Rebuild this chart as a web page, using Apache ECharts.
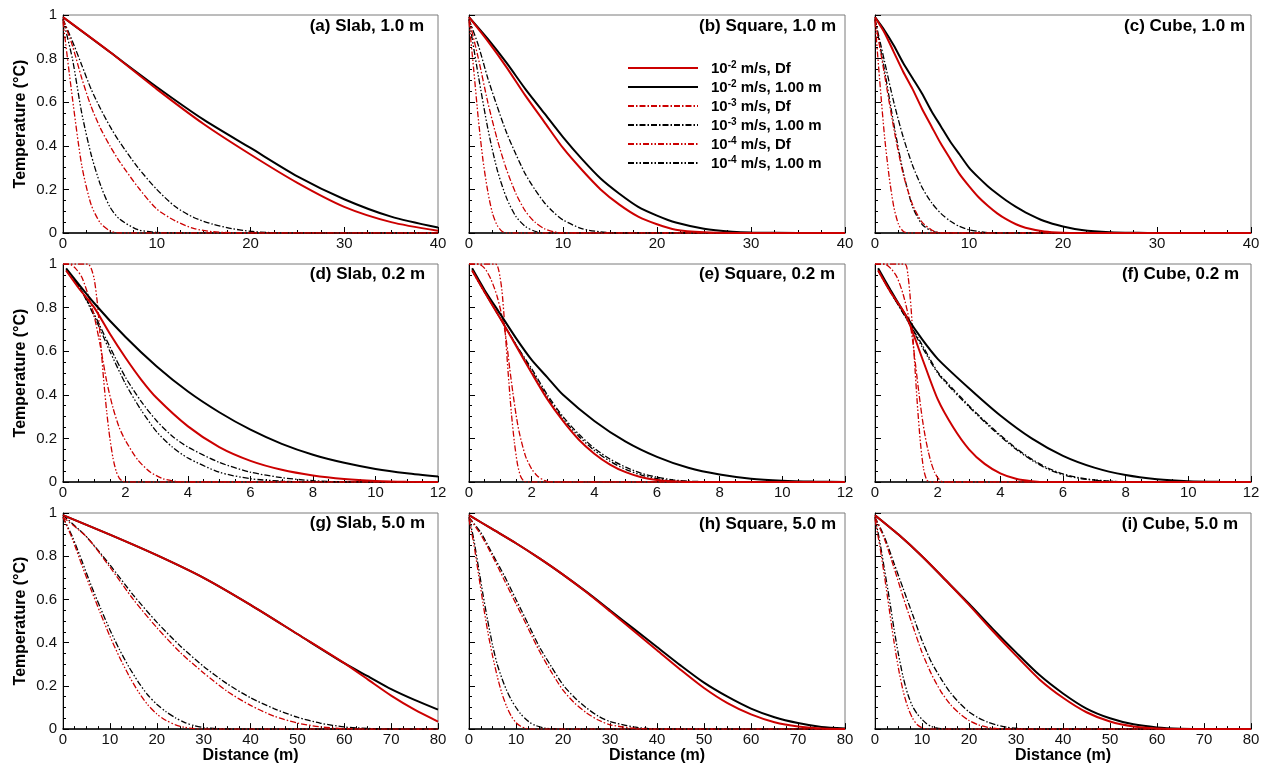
<!DOCTYPE html>
<html><head><meta charset="utf-8">
<script src="https://cdn.jsdelivr.net/npm/echarts@6/dist/echarts.min.js"></script>
<style>html,body{margin:0;padding:0;background:#fff}#c{width:1264px;height:765px}</style>
</head><body><div id="c"></div>
<script>
// ---------------- DATA ----------------
const seriesNames = ['10-2 m/s, Df','10-2 m/s, 1.00 m','10-3 m/s, Df','10-3 m/s, 1.00 m','10-4 m/s, Df','10-4 m/s, 1.00 m'];
const panelTitles = ['(a) Slab, 1.0 m','(b) Square, 1.0 m','(c) Cube, 1.0 m','(d) Slab, 0.2 m','(e) Square, 0.2 m','(f) Cube, 0.2 m','(g) Slab, 5.0 m','(h) Square, 5.0 m','(i) Cube, 5.0 m'];
const rowXMax = [40, 12, 80];
const rowXInterval = [10, 2, 10];
const yTicks = [0, 0.2, 0.4, 0.6, 0.8, 1];

// (a) Slab 1.0 m
const a_red2 = [[0,0.99],[5,0.83],[10,0.66],[15,0.50],[20,0.36],[25,0.23],[30,0.12],[35,0.05],[40,0.01]];
const a_blk2 = [[0,0.99],[5,0.83],[10,0.67],[15,0.52],[20,0.39],[25,0.26],[30,0.155],[35,0.075],[40,0.025]];
const a_red3 = [[0,0.98],[1,0.86],[2,0.71],[3,0.58],[4,0.48],[5,0.40],[6,0.33],[8,0.21],[10,0.11],[12,0.055],[14,0.02],[16,0.006],[18,0.001],[20,0],[40,0]];
const a_blk3 = [[0,0.98],[1,0.88],[2,0.77],[3,0.66],[4,0.57],[5,0.49],[6,0.42],[8,0.30],[10,0.20],[12,0.12],[14,0.07],[16,0.04],[18,0.02],[20,0.008],[22,0.002],[25,0],[40,0]];
const a_red4 = [[0,0.97],[1,0.62],[2,0.31],[3,0.13],[4,0.045],[5,0.01],[6,0],[40,0]];
const a_blk4 = [[0,0.98],[1,0.80],[2,0.55],[3,0.36],[4,0.22],[5,0.12],[6,0.065],[8,0.015],[10,0.003],[12,0],[40,0]];
// (b) Square 1.0 m
const b_red2 = [[0,0.99],[2,0.88],[4,0.76],[6,0.63],[8,0.51],[10,0.39],[12,0.29],[14,0.20],[16,0.13],[18,0.075],[20,0.04],[22,0.015],[25,0.003],[28,0],[40,0]];
const b_blk2 = [[0,0.99],[2,0.89],[4,0.78],[6,0.66],[8,0.55],[10,0.44],[12,0.34],[14,0.25],[16,0.18],[18,0.12],[20,0.08],[22,0.048],[25,0.02],[28,0.006],[30,0.002],[35,0],[40,0]];
const b_red3 = [[0,0.98],[1,0.80],[2,0.60],[3,0.43],[4,0.29],[5,0.18],[6,0.10],[7,0.05],[8,0.02],[9,0.006],[10,0],[40,0]];
const b_blk3 = [[0,0.98],[1,0.86],[2,0.71],[3,0.58],[4,0.46],[5,0.36],[6,0.27],[7,0.20],[8,0.14],[9,0.095],[10,0.06],[12,0.02],[14,0.005],[16,0],[40,0]];
const b_red4 = [[0,0.97],[0.5,0.75],[1,0.52],[1.5,0.33],[2,0.19],[2.5,0.09],[3,0.035],[3.5,0.008],[4,0],[40,0]];
const b_blk4 = [[0,0.98],[1,0.72],[2,0.48],[3,0.29],[4,0.16],[5,0.075],[6,0.03],[7,0.008],[8,0],[40,0]];
// (c) Cube 1.0 m
const c_red2 = [[0,0.99],[1,0.92],[2,0.83],[3,0.74],[4,0.66],[5,0.57],[6,0.49],[7,0.41],[8,0.34],[9,0.27],[10,0.215],[11,0.165],[12,0.125],[13,0.09],[14,0.062],[15,0.04],[16,0.024],[18,0.007],[20,0.001],[22,0],[40,0]];
const c_blk2 = [[0,0.99],[1,0.93],[2,0.86],[3,0.78],[4,0.71],[5,0.64],[6,0.56],[7,0.49],[8,0.42],[9,0.36],[10,0.30],[11,0.255],[12,0.215],[13,0.18],[14,0.148],[15,0.12],[16,0.095],[18,0.055],[20,0.03],[22,0.014],[25,0.004],[28,0.001],[30,0],[40,0]];
const c_red3 = [[0,0.98],[1,0.73],[2,0.48],[3,0.27],[4,0.13],[5,0.05],[6,0.015],[7,0],[40,0]];
const c_blk3 = [[0,0.98],[1,0.79],[2,0.60],[3,0.44],[4,0.31],[5,0.21],[6,0.14],[7,0.09],[8,0.055],[9,0.03],[10,0.015],[11,0.007],[12,0.002],[14,0],[40,0]];
const c_red4 = [[0,0.97],[0.5,0.70],[1,0.45],[1.5,0.26],[2,0.12],[2.5,0.04],[3,0.008],[3.5,0],[40,0]];
const c_blk4 = [[0,0.98],[1,0.75],[2,0.50],[3,0.28],[4,0.12],[5,0.04],[6,0.01],[7,0],[40,0]];
// (d) Slab 0.2 m
const d_red2 = [[0.1,0.97],[0.5,0.89],[1,0.80],[1.5,0.68],[2,0.57],[2.5,0.47],[3,0.385],[4,0.255],[5,0.16],[6,0.097],[7,0.056],[8,0.03],[9,0.014],[10,0.005],[11,0.001],[12,0]];
const d_blk2 = [[0.1,0.98],[1,0.82],[2,0.665],[3,0.53],[4,0.415],[5,0.32],[6,0.24],[7,0.175],[8,0.125],[9,0.088],[10,0.06],[11,0.04],[12,0.025]];
const d_red3 = [[0,1],[0.2,1],[0.4,0.98],[0.6,0.94],[0.8,0.86],[1.0,0.76],[1.2,0.62],[1.4,0.46],[1.6,0.34],[1.8,0.25],[2.0,0.19],[2.4,0.10],[2.8,0.045],[3.2,0.015],[3.6,0.003],[4,0],[12,0]];
const d_blk3 = [[0.1,0.97],[0.5,0.90],[1,0.77],[1.5,0.62],[2,0.48],[2.5,0.37],[3,0.28],[3.5,0.21],[4,0.16],[5,0.09],[6,0.045],[7,0.02],[8,0.006],[9,0],[12,0]];
const d_red4 = [[0,1],[0.8,1],[0.9,0.98],[1.0,0.93],[1.1,0.82],[1.2,0.65],[1.3,0.47],[1.4,0.32],[1.5,0.20],[1.6,0.11],[1.7,0.05],[1.8,0.018],[1.9,0.004],[2.0,0],[12,0]];
const d_blk4 = [[0.1,0.97],[0.5,0.90],[1,0.76],[1.5,0.60],[2,0.45],[2.5,0.33],[3,0.23],[3.5,0.16],[4,0.11],[5,0.045],[6,0.015],[7,0.004],[8,0],[12,0]];
// (e) Square 0.2 m
const e_red2 = [[0.1,0.97],[0.5,0.87],[1,0.75],[1.5,0.625],[2,0.50],[2.5,0.38],[3,0.28],[3.5,0.195],[4,0.13],[4.5,0.08],[5,0.045],[5.5,0.022],[6,0.009],[6.5,0.003],[7,0],[12,0]];
const e_blk2 = [[0.1,0.98],[0.5,0.88],[1,0.77],[1.5,0.66],[2,0.56],[2.5,0.48],[3,0.40],[4,0.28],[5,0.185],[6,0.115],[7,0.065],[8,0.034],[9,0.015],[10,0.006],[11,0.002],[12,0]];
const e_red3 = [[0,1],[0.3,1],[0.5,0.98],[0.7,0.93],[0.9,0.85],[1.1,0.73],[1.2,0.64],[1.3,0.52],[1.4,0.41],[1.5,0.31],[1.6,0.23],[1.8,0.12],[2.0,0.06],[2.2,0.025],[2.4,0.008],[2.6,0],[12,0]];
const e_blk3 = [[0.1,0.97],[0.5,0.87],[1,0.75],[1.5,0.63],[2,0.52],[2.5,0.40],[3,0.30],[3.5,0.22],[4,0.155],[4.5,0.105],[5,0.068],[5.5,0.04],[6,0.022],[6.5,0.01],[7,0.004],[8,0],[12,0]];
const e_red4 = [[0,1],[0.85,1],[0.95,0.97],[1.05,0.88],[1.15,0.70],[1.25,0.50],[1.35,0.32],[1.45,0.18],[1.55,0.08],[1.65,0.025],[1.75,0.004],[1.85,0],[12,0]];
const e_blk4 = [[0.1,0.97],[0.5,0.87],[1,0.75],[1.5,0.63],[2,0.51],[2.5,0.39],[3,0.29],[3.5,0.21],[4,0.145],[4.5,0.095],[5,0.058],[5.5,0.032],[6,0.015],[6.5,0.006],[7,0.002],[8,0],[12,0]];
// (f) Cube 0.2 m
const f_red2 = [[0.1,0.97],[0.5,0.87],[1,0.76],[1.5,0.57],[2,0.38],[2.5,0.25],[3,0.15],[3.5,0.083],[4,0.04],[4.5,0.015],[5,0.004],[5.5,0],[12,0]];
const f_blk2 = [[0.1,0.98],[0.5,0.88],[1,0.76],[1.5,0.655],[2,0.565],[3,0.43],[4,0.305],[5,0.20],[6,0.12],[7,0.066],[8,0.032],[9,0.013],[10,0.004],[11,0.001],[12,0]];
const f_red3 = [[0,1],[0.3,1],[0.5,0.98],[0.7,0.94],[0.9,0.86],[1.1,0.74],[1.2,0.65],[1.3,0.53],[1.4,0.41],[1.5,0.30],[1.6,0.21],[1.7,0.14],[1.8,0.085],[1.9,0.045],[2.0,0.02],[2.1,0.005],[2.2,0],[12,0]];
const f_blk3 = [[0.1,0.97],[0.5,0.87],[1,0.75],[1.5,0.63],[2,0.505],[2.5,0.425],[3,0.35],[3.5,0.28],[4,0.215],[4.5,0.155],[5,0.105],[5.5,0.065],[6,0.037],[6.5,0.02],[7,0.01],[7.5,0.004],[8,0],[12,0]];
const f_red4 = [[0,1],[0.95,1],[1.05,0.95],[1.15,0.80],[1.25,0.58],[1.35,0.36],[1.45,0.18],[1.55,0.06],[1.65,0.01],[1.75,0],[12,0]];
const f_blk4 = [[0.1,0.97],[0.5,0.87],[1,0.75],[1.5,0.62],[2,0.50],[2.5,0.418],[3,0.345],[3.5,0.275],[4,0.21],[4.5,0.15],[5,0.10],[5.5,0.06],[6,0.033],[6.5,0.017],[7,0.008],[7.5,0.003],[8,0],[12,0]];
// (g) Slab 5.0 m
const g_red2 = [[0,0.99],[10,0.90],[20,0.805],[30,0.70],[40,0.575],[50,0.44],[60,0.305],[65,0.23],[70,0.155],[75,0.09],[80,0.035]];
const g_blk2 = [[0,0.99],[10,0.90],[20,0.805],[30,0.70],[40,0.575],[50,0.44],[60,0.305],[65,0.245],[70,0.185],[75,0.135],[80,0.09]];
const g_red3 = [[0,0.98],[5,0.89],[10,0.75],[15,0.60],[20,0.47],[25,0.355],[30,0.26],[35,0.175],[40,0.11],[45,0.06],[50,0.028],[55,0.01],[60,0.002],[65,0],[80,0]];
const g_blk3 = [[0,0.99],[5,0.89],[10,0.76],[15,0.62],[20,0.495],[25,0.385],[30,0.29],[35,0.21],[40,0.145],[45,0.095],[50,0.055],[55,0.027],[60,0.01],[65,0.003],[70,0],[80,0]];
const g_red4 = [[0,0.98],[2,0.88],[4,0.76],[6,0.645],[8,0.535],[10,0.43],[12,0.335],[14,0.25],[16,0.175],[18,0.115],[20,0.07],[22,0.04],[24,0.02],[26,0.008],[28,0.002],[30,0],[80,0]];
const g_blk4 = [[0,0.98],[2,0.89],[4,0.78],[6,0.665],[8,0.56],[10,0.46],[12,0.37],[14,0.29],[16,0.22],[18,0.16],[20,0.115],[22,0.08],[24,0.052],[26,0.03],[28,0.016],[30,0.007],[33,0.002],[36,0],[80,0]];
// (h) Square 5.0 m
const h_red2 = [[0,0.99],[5,0.925],[10,0.86],[15,0.79],[20,0.715],[25,0.633],[30,0.545],[35,0.455],[40,0.365],[45,0.275],[50,0.19],[55,0.12],[60,0.068],[65,0.032],[70,0.012],[75,0.003],[80,0]];
const h_blk2 = [[0,0.99],[5,0.925],[10,0.86],[15,0.79],[20,0.715],[25,0.635],[30,0.55],[35,0.465],[40,0.38],[45,0.295],[50,0.215],[55,0.15],[60,0.095],[65,0.055],[70,0.028],[75,0.01],[80,0.003]];
const h_red3 = [[0,0.98],[2.5,0.90],[5,0.80],[7.5,0.69],[10,0.58],[12.5,0.47],[15,0.36],[17.5,0.265],[20,0.18],[22.5,0.12],[25,0.075],[27.5,0.042],[30,0.02],[35,0.004],[40,0],[80,0]];
const h_blk3 = [[0,0.98],[2.5,0.91],[5,0.81],[7.5,0.71],[10,0.60],[12.5,0.49],[15,0.38],[17.5,0.29],[20,0.205],[22.5,0.145],[25,0.098],[27.5,0.06],[30,0.035],[35,0.01],[40,0],[80,0]];
const h_red4 = [[0,0.97],[1,0.86],[2,0.72],[3,0.58],[4,0.45],[5,0.34],[6,0.245],[7,0.165],[8,0.105],[9,0.06],[10,0.03],[11,0.013],[12,0.004],[13,0],[80,0]];
const h_blk4 = [[0,0.98],[1,0.88],[2,0.75],[3,0.62],[4,0.50],[5,0.39],[6,0.30],[7,0.235],[8,0.18],[9,0.135],[10,0.10],[11,0.07],[12,0.048],[13,0.03],[14,0.018],[16,0.005],[18,0.001],[20,0],[80,0]];
// (i) Cube 5.0 m
const i_red2 = [[0,0.99],[5,0.90],[10,0.80],[15,0.69],[20,0.575],[25,0.455],[30,0.34],[35,0.23],[40,0.145],[45,0.078],[50,0.035],[55,0.012],[60,0.003],[65,0],[80,0]];
const i_blk2 = [[0,0.99],[5,0.90],[10,0.80],[15,0.69],[20,0.58],[25,0.465],[30,0.355],[35,0.25],[40,0.165],[45,0.095],[50,0.05],[55,0.022],[60,0.008],[65,0.002],[70,0],[80,0]];
const i_red3 = [[0,0.98],[2,0.88],[4,0.75],[6,0.61],[8,0.48],[10,0.355],[12,0.255],[14,0.175],[16,0.115],[18,0.072],[20,0.04],[22,0.02],[24,0.008],[26,0.002],[28,0],[80,0]];
const i_blk3 = [[0,0.98],[2,0.89],[4,0.77],[6,0.65],[8,0.53],[10,0.41],[12,0.31],[14,0.235],[16,0.17],[18,0.12],[20,0.08],[22,0.052],[24,0.032],[26,0.018],[28,0.009],[30,0.004],[33,0],[80,0]];
const i_red4 = [[0,0.97],[1,0.85],[2,0.71],[3,0.56],[4,0.41],[5,0.28],[6,0.175],[7,0.10],[8,0.05],[9,0.02],[10,0.006],[11,0],[80,0]];
const i_blk4 = [[0,0.98],[1,0.87],[2,0.74],[3,0.61],[4,0.47],[5,0.345],[6,0.24],[7,0.16],[8,0.105],[9,0.07],[10,0.045],[11,0.025],[12,0.012],[13,0.006],[14,0.002],[15,0],[80,0]];

const panelData = [
  [a_red2,a_blk2,a_red3,a_blk3,a_red4,a_blk4],
  [b_red2,b_blk2,b_red3,b_blk3,b_red4,b_blk4],
  [c_red2,c_blk2,c_red3,c_blk3,c_red4,c_blk4],
  [d_red2,d_blk2,d_red3,d_blk3,d_red4,d_blk4],
  [e_red2,e_blk2,e_red3,e_blk3,e_red4,e_blk4],
  [f_red2,f_blk2,f_red3,f_blk3,f_red4,f_blk4],
  [g_red2,g_blk2,g_red3,g_blk3,g_red4,g_blk4],
  [h_red2,h_blk2,h_red3,h_blk3,h_red4,h_blk4],
  [i_red2,i_blk2,i_red3,i_blk3,i_red4,i_blk4]
];

// ---------------- LAYOUT / STYLE ----------------
const FONT = '"Liberation Sans", Arial, Helvetica, sans-serif';
const RED = '#cc0000', BLK = '#000000';
const colLeft = [63, 469, 875], colWidth = [375, 376, 376];
const rowTop = [15, 264, 513], rowHeight = 218;
const titleRight = [840, 428, 19, 839, 429, 25, 839, 428, 26];
const titleTop = [18, 18, 18, 266, 266, 266, 515, 516, 516];
const styles = [
  {color: RED, width: 2, type: 'solid'},
  {color: BLK, width: 2, type: 'solid'},
  {color: RED, width: 1.3, type: [6, 2, 1.5, 2]},
  {color: BLK, width: 1.3, type: [6, 2, 1.5, 2]},
  {color: RED, width: 1.3, type: [6, 2, 1.5, 2, 1.5, 2]},
  {color: BLK, width: 1.3, type: [6, 2, 1.5, 2, 1.5, 2]}
];

const grids = [], xAxes = [], yAxes = [], series = [], titles = [];
for (let p = 0; p < 9; p++) {
  const r = Math.floor(p / 3), c = p % 3;
  grids.push({left: colLeft[c], top: rowTop[r], width: colWidth[c], height: rowHeight,
    show: true, borderColor: '#7a7a7a', borderWidth: 1, backgroundColor: 'transparent'});
  xAxes.push({
    type: 'value', gridIndex: p, min: 0, max: rowXMax[r], interval: rowXInterval[r],
    name: r === 2 ? 'Distance (m)' : '', nameLocation: 'middle', nameGap: 18,
    nameTextStyle: {fontFamily: FONT, fontWeight: 'bold', fontSize: 16, color: '#000', verticalAlign: 'top'},
    axisLine: {show: true, onZero: false, lineStyle: {color: '#000', width: 1.5}},
    axisTick: {show: true, inside: true, length: 6, lineStyle: {color: '#000'}},
    minorTick: {show: true, splitNumber: 4, length: 3, lineStyle: {color: '#000'}},
    splitLine: {show: false},
    axisLabel: {fontFamily: FONT, fontSize: 15, color: '#111', margin: 3}
  });
  yAxes.push({
    type: 'value', gridIndex: p, min: yTicks[0], max: yTicks[yTicks.length - 1], interval: 0.2,
    name: c === 0 ? 'Temperature (°C)' : '', nameLocation: 'middle', nameGap: 34,
    nameTextStyle: {fontFamily: FONT, fontWeight: 'bold', fontSize: 16, color: '#000'},
    axisLine: {show: true, onZero: false, lineStyle: {color: '#000', width: 1}},
    axisTick: {show: true, inside: true, length: 6, lineStyle: {color: '#000'}},
    minorTick: {show: true, splitNumber: 4, length: 3, lineStyle: {color: '#000'}},
    splitLine: {show: false},
    axisLabel: {show: c === 0, fontFamily: FONT, fontSize: 15, color: '#111', margin: 6}
  });
  titles.push({text: panelTitles[p], right: titleRight[p], top: titleTop[p], padding: 0,
    textStyle: {fontFamily: FONT, fontWeight: 'bold', fontSize: 17, color: '#000'}});
  for (let s = 0; s < 6; s++) {
    series.push({
      type: 'line', name: seriesNames[s], xAxisIndex: p, yAxisIndex: p,
      data: panelData[p][s], showSymbol: false, symbol: 'none',
      smooth: 0.25, clip: true, silent: true,
      lineStyle: {color: styles[s].color, width: styles[s].width, type: styles[s].type},
      itemStyle: {color: styles[s].color}, z: 10 - s
    });
  }
}

const chart = echarts.init(document.getElementById('c'), null, {renderer: 'canvas'});
chart.setOption({
  animation: false,
  backgroundColor: '#fff',
  title: titles,
  grid: grids, xAxis: xAxes, yAxis: yAxes, series: series,
  legend: {
    data: seriesNames, orient: 'vertical', left: 627, top: 60, padding: 0,
    itemWidth: 70, itemHeight: 12, itemGap: 3, selectedMode: false,
    itemStyle: {opacity: 0, borderWidth: 0},
    formatter: function (n) {
      const m = n.match(/^10(-\d)(.*)$/);
      return '{b|10}{sup|' + m[1] + '}{b|' + m[2] + '}';
    },
    textStyle: {padding: [0, 0, 0, 8],
      rich: {
        b: {fontFamily: FONT, fontWeight: 'bold', fontSize: 15, color: '#000', lineHeight: 16, verticalAlign: 'bottom'},
        sup: {fontFamily: FONT, fontWeight: 'bold', fontSize: 10, color: '#000', lineHeight: 16, verticalAlign: 'top'}
      }
    }
  }
});
</script></body></html>
